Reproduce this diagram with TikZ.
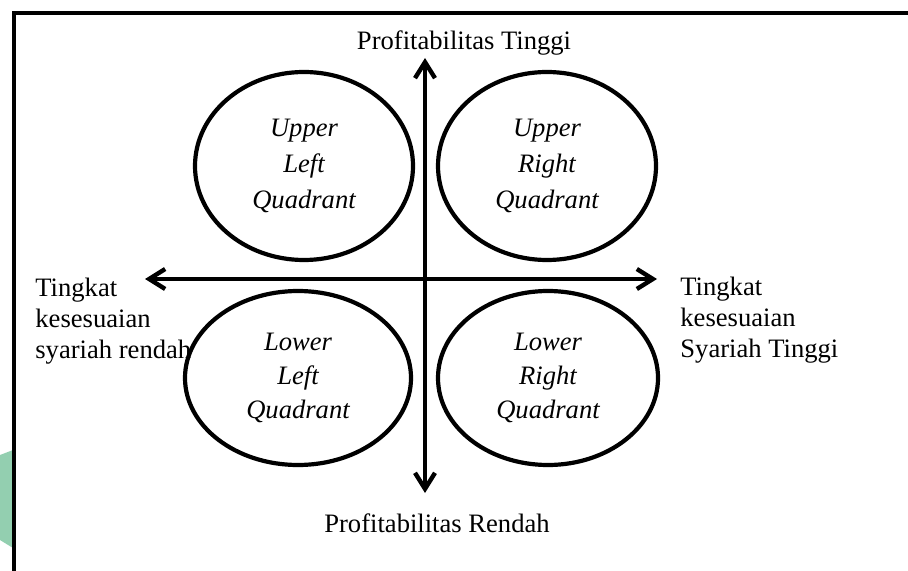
\documentclass[tikz,border=0pt]{standalone}
\usepackage{fontspec}
\setmainfont{Liberation Serif}
\usetikzlibrary{arrows.meta,shapes.geometric}
\definecolor{wmgreen}{HTML}{93CFB0}
\newcommand{\quadfont}{\fontsize{13.3}{18}\selectfont\itshape}
\newcommand{\lblfont}{\fontsize{13.3}{15.4}\selectfont}

\begin{document}
\begin{tikzpicture}[x=0.5pt,y=-0.5pt,
  quad/.style={draw,ellipse,line width=2.1pt,inner sep=0pt,align=center,font=\quadfont},
  axis/.style={line width=2.2pt,{Straight Barb[length=8pt,width=10pt]}-{Straight Barb[length=8pt,width=10pt]}},
  lbl/.style={inner sep=0pt,font=\lblfont}]
  \useasboundingbox (0,0) rectangle (908,571);
  \begin{scope}
    \clip (0,0) rectangle (908,571);
    \fill[wmgreen] (0,455) -- (13,450) -- (13,548) -- (0,540) -- cycle;
    \draw[line width=2.3pt] (14,600) -- (14,13) -- (940,13);
  \end{scope}
  % axes
  \coordinate (top) at (425,58);
  \coordinate (bot) at (425,493);
  \coordinate (lft) at (145,279);
  \coordinate (rgt) at (657,279);
  \draw[axis] (bot) -- (top);
  \draw[axis] (lft) -- (rgt);
  % quadrants
  \node[quad,minimum width=109pt,minimum height=94pt] (ul) at (304,166) {Upper\\Left\\Quadrant};
  \node[quad,minimum width=109pt,minimum height=94pt] (ur) at (547,166) {Upper\\Right\\Quadrant};
  \node[quad,minimum width=113pt,minimum height=87pt,font=\fontsize{13.3}{17.2}\selectfont\itshape] (ll) at (298,378) {Lower\\Left\\Quadrant};
  \node[quad,minimum width=110pt,minimum height=87pt,font=\fontsize{13.3}{17.2}\selectfont\itshape] (lr) at (548,378) {Lower\\Right\\Quadrant};
  % labels
  \node[lbl,anchor=base] (high) at (464,50) {Profitabilitas Tinggi};
  \node[lbl,anchor=base] (low) at (437,532) {Profitabilitas Rendah};
  \node[lbl,anchor=north west,align=left] (lowsy) at (35,278) {Tingkat\\kesesuaian\\syariah rendah};
  \node[lbl,anchor=north west,align=left] (highsy) at (680,277) {Tingkat\\ kesesuaian\\Syariah Tinggi};
\end{tikzpicture}
\end{document}
